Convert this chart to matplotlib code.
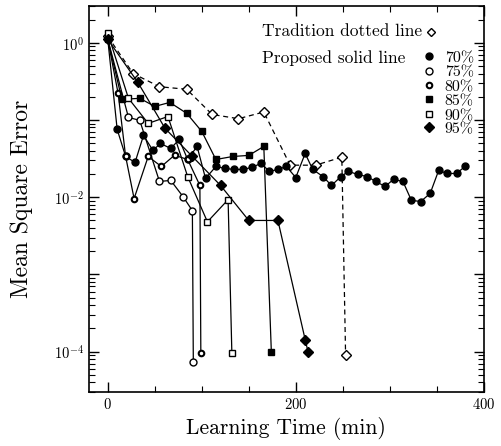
import numpy as np
import matplotlib.pyplot as plt
from matplotlib.ticker import LogLocator, FuncFormatter, MultipleLocator, NullFormatter

plt.rcParams['font.family'] = ['cmr10', 'DejaVu Serif']
plt.rcParams['mathtext.fontset'] = 'cm'
plt.rcParams['axes.formatter.use_mathtext'] = True

# Traditional method (dashed line, open diamonds)
trad_x = [0, 27, 55, 84, 111, 139, 166, 194, 221, 249, 253]
trad_y = [1.21, 0.40, 0.27, 0.25, 0.118, 0.104, 0.127, 0.026, 0.026, 0.033, 9.1e-5]

# Proposed method, one series per setting
p70_x = [0, 10, 19, 29, 38, 48, 56, 67, 76, 85, 95, 104, 115, 125, 134, 144, 153,
         163, 172, 181, 190, 200, 210, 218, 229, 238, 248, 256, 266, 276, 285, 295,
         304, 314, 323, 333, 343, 352, 361, 371, 380]
p70_y = [1.11, 0.0755, 0.0337, 0.0282, 0.0631, 0.0404, 0.0497, 0.0428, 0.0560, 0.0308,
         0.0455, 0.0175, 0.0250, 0.0236, 0.0229, 0.0229, 0.0243, 0.0274, 0.0216, 0.0229,
         0.0250, 0.0180, 0.0369, 0.0229, 0.0185, 0.0142, 0.0185, 0.0216, 0.0197, 0.0185,
         0.0160, 0.0138, 0.0170, 0.0160, 0.0091, 0.0088, 0.0112, 0.0222, 0.0203, 0.0203,
         0.0250]

p75_x = [0, 22, 34, 55, 67, 80, 90, 91]
p75_y = [1.11, 0.108, 0.099, 0.016, 0.0165, 0.0102, 0.0067, 7.4e-5]

p80_x = [0, 11, 19, 28, 43, 57, 71, 85, 98, 99]
p80_y = [1.11, 0.221, 0.0337, 0.0096, 0.0337, 0.025, 0.035, 0.0308, 0.0142, 9.7e-5]

p85_x = [0, 15, 34, 50, 66, 84, 100, 115, 133, 150, 166, 174]
p85_y = [1.11, 0.185, 0.191, 0.150, 0.169, 0.122, 0.0711, 0.0308, 0.0337, 0.0348,
         0.0455, 1.0e-4]

p90_x = [0, 22, 43, 64, 85, 106, 128, 132]
p90_y = [1.33, 0.191, 0.0904, 0.111, 0.0185, 0.0048, 0.0093, 9.7e-5]

p95_x = [0, 32, 61, 90, 120, 150, 181, 210, 213]
p95_y = [1.11, 0.307, 0.0778, 0.0337, 0.0142, 0.0050, 0.0050, 1.43e-4, 1.0e-4]

labels = ['70%', '75%', '80%', '85%', '90%', '95%']

fig = plt.figure(figsize=(5.01, 4.46), dpi=100)
ax = fig.add_axes([0.1776, 0.1211, 0.788, 0.8655])

ax.plot(trad_x, trad_y, color='black', lw=0.9, ls=(0, (4, 3)), marker='D', ms=5,
        mfc='white', mec='black', mew=1.0)

styles = [
    dict(marker='o', ms=5, mfc='black', mec='black', mew=1.0),
    dict(marker='o', ms=5, mfc='white', mec='black', mew=1.0),
    dict(marker='o', ms=4, mfc='white', mec='black', mew=1.5),
    dict(marker='s', ms=5, mfc='black', mec='black', mew=1.0),
    dict(marker='s', ms=5, mfc='white', mec='black', mew=1.0),
    dict(marker='D', ms=5, mfc='black', mec='black', mew=1.0),
]
series = [(p70_x, p70_y), (p75_x, p75_y), (p80_x, p80_y),
          (p85_x, p85_y), (p90_x, p90_y), (p95_x, p95_y)]
for (xs, ys), st in zip(series, styles):
    ax.plot(xs, ys, color='black', lw=0.9, **st)

ax.set_yscale('log')
ax.set_xlim(-20, 400)
ax.set_ylim(3e-5, 3)

ax.xaxis.set_major_locator(MultipleLocator(200))
ax.xaxis.set_minor_locator(MultipleLocator(50))
ax.yaxis.set_major_locator(LogLocator(base=10, numticks=20))
ax.yaxis.set_minor_locator(LogLocator(base=10, subs=np.arange(2, 10), numticks=20))
ax.yaxis.set_minor_formatter(NullFormatter())


def even_decades(v, pos):
    e = int(round(np.log10(v)))
    return r'$10^{%d}$' % e if e % 2 == 0 else ''


ax.yaxis.set_major_formatter(FuncFormatter(even_decades))
ax.tick_params(which='both', direction='in', top=True, right=True, labelsize=10.5)
ax.tick_params(which='major', length=7, width=1.0)
ax.tick_params(which='minor', length=4, width=0.8)
for s in ax.spines.values():
    s.set_linewidth(1.2)

ax.set_xlabel('Learning Time (min)', fontsize=15.5, labelpad=4)
ax.set_ylabel('Mean Square Error', fontsize=17, labelpad=15)

# Legend drawn as text and markers in axes coordinates
tr = ax.transAxes
ax.text(0.438, 0.935, 'Tradition dotted line', transform=tr, fontsize=12.5, va='center')
ax.plot([0.866], [0.933], transform=tr, marker='D', ms=4.5, mfc='white', mec='black',
        clip_on=False)
ax.text(0.438, 0.866, 'Proposed solid line', transform=tr, fontsize=12.5, va='center')
leg_y = [0.870, 0.832, 0.794, 0.758, 0.720, 0.686]
for yy, st, lab in zip(leg_y, styles, labels):
    ax.plot([0.861], [yy], transform=tr, ls='none', **st)
    ax.text(0.901, yy - 0.005, lab, transform=tr, fontsize=11.5, va='center')

fig.savefig('out.png', dpi=100)
